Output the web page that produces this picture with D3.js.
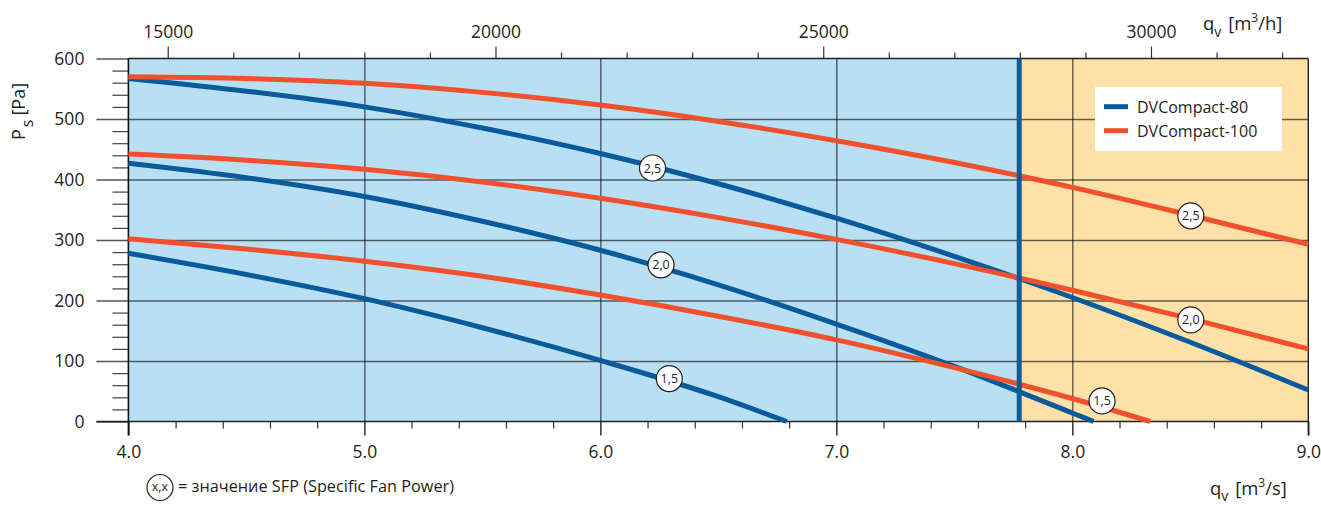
<!DOCTYPE html>
<html>
<head>
<meta charset="utf-8">
<script src="https://cdn.jsdelivr.net/npm/d3@7"></script>
<style>
  html, body { margin: 0; padding: 0; background: #fff; }
  svg { display: block; }
  text { font-family: "Open Sans", "Noto Sans", sans-serif; fill: #231f20; }
</style>
</head>
<body>
<svg id="chart" width="1321" height="506"></svg>
<script>
// ---------- DATA ----------
// air flow q_v [m3/s] and static pressure P_s [Pa]
const q80_25 = [4.0, 4.5, 5.0, 5.5, 6.0, 6.5, 7.0, 7.5, 8.0, 8.5, 9.0];
const p80_25 = [567, 546, 520, 485, 443, 393, 336, 273, 205, 131, 52];
const q80_20 = [4.0, 4.5, 5.0, 5.5, 6.0, 6.5, 7.0, 7.5, 8.0, 8.09];
const p80_20 = [427, 403, 372, 331, 283, 226, 161, 91, 14, 0];
const q80_15 = [4.0, 4.5, 5.0, 5.5, 6.0, 6.5, 6.79];
const p80_15 = [278, 243, 203, 155, 101, 41, 0];

const q100_25 = [4.0, 4.5, 5.0, 5.5, 6.0, 6.5, 7.0, 7.5, 8.0, 8.5, 9.0];
const p100_25 = [570, 567, 559, 544, 523, 496, 464, 428, 387, 341, 293];
const q100_20 = [4.0, 4.5, 5.0, 5.5, 6.0, 6.5, 7.0, 7.5, 8.0, 8.5, 9.0];
const p100_20 = [442, 432, 417, 396, 369, 337, 301, 261, 217, 170, 120];
const q100_15 = [4.0, 4.5, 5.0, 5.5, 6.0, 6.5, 7.0, 7.5, 8.0, 8.33];
const p100_15 = [302, 285, 265, 240, 209, 174, 135, 89, 38, 0];

// SFP labels
const sfpText = ["2,5", "2,0", "1,5"];
const lab80_q = [6.221, 6.257, 6.292];
const lab80_p = [419, 259, 71];
const lab100_q = [8.502, 8.502, 8.126];
const lab100_p = [340, 168, 34];

// range limit of DVCompact-80
const limitQ = 7.775;

// axes
const xMajor = [4, 5, 6, 7, 8, 9];
const yMajor = [0, 100, 200, 300, 400, 500, 600];
const topMajor = [15000, 20000, 25000, 30000];
const seriesNames = ["DVCompact-80", "DVCompact-100"];
const colors = ["#0a5a9c", "#f0502c"];

// ---------- CHART ----------
const svg = d3.select("#chart");
const L = 128.4, R = 1308.3, T = 58.5, B = 421.5;
const x = d3.scaleLinear().domain([4, 9]).range([L, R]);
const y = d3.scaleLinear().domain([0, 600]).range([B, T]);
const xTop = d3.scaleLinear().domain([4 * 3600, 9 * 3600]).range([L, R]);

// backgrounds
svg.append("rect").attr("x", x(4)).attr("y", y(600))
  .attr("width", x(limitQ) - x(4)).attr("height", y(0) - y(600)).attr("fill", "#b9e0f2");
svg.append("rect").attr("x", x(limitQ)).attr("y", y(600))
  .attr("width", x(9) - x(limitQ)).attr("height", y(0) - y(600)).attr("fill", "#fde1a8");

// minor y ticks
const yMinor = d3.range(0, 601, 20).filter(v => v % 100 !== 0);
svg.append("g").attr("transform", `translate(${L},0)`)
  .call(d3.axisLeft(y).tickValues(yMinor).tickSize(16).tickFormat(""))
  .call(g => g.select(".domain").remove())
  .call(g => g.selectAll("line").attr("stroke", "#444").attr("stroke-width", 1.2));

// major y ticks + labels
svg.append("g").attr("transform", `translate(${L},0)`)
  .call(d3.axisLeft(y).tickValues(yMajor).tickSize(32).tickPadding(12))
  .call(g => g.select(".domain").remove())
  .call(g => g.selectAll("line").attr("stroke", "#555").attr("stroke-width", 1.3))
  .call(g => g.selectAll("text").attr("font-size", 17.5).attr("fill", "#231f20")
      .style("font-family", "'Open Sans', sans-serif"));

// horizontal grid
svg.append("g").attr("transform", `translate(${L},0)`)
  .call(d3.axisLeft(y).tickValues([100, 200, 300, 400, 500]).tickSize(-(R - L)).tickFormat(""))
  .call(g => g.select(".domain").remove())
  .call(g => g.selectAll("line").attr("stroke", "#000").attr("stroke-opacity", 0.6).attr("stroke-width", 1.3));

// vertical grid
svg.append("g").attr("transform", `translate(0,${B})`)
  .call(d3.axisBottom(x).tickValues([5, 6, 7, 8]).tickSize(-(B - T)).tickFormat(""))
  .call(g => g.select(".domain").remove())
  .call(g => g.selectAll("line").attr("stroke", "#000").attr("stroke-opacity", 0.7).attr("stroke-width", 1.2));

// x minor ticks
const xMinor = d3.range(4, 9.001, 0.2).filter(v => Math.abs(v - Math.round(v)) > 0.01);
svg.append("g").attr("transform", `translate(0,${B})`)
  .call(d3.axisBottom(x).tickValues(xMinor).tickSize(7).tickFormat(""))
  .call(g => g.select(".domain").remove())
  .call(g => g.selectAll("line").attr("stroke", "#333").attr("stroke-width", 1.2));

// x major ticks + labels
svg.append("g").attr("transform", `translate(0,${B})`)
  .call(d3.axisBottom(x).tickValues(xMajor).tickSize(14).tickPadding(10).tickFormat(d3.format(".1f")))
  .call(g => g.select(".domain").remove())
  .call(g => g.selectAll("line").attr("stroke", "#222").attr("stroke-width", 1.4))
  .call(g => g.selectAll("text").attr("font-size", 17.5).attr("fill", "#231f20")
      .style("font-family", "'Open Sans', sans-serif"));

// top axis
const topMinor = d3.range(15000, 32001, 1000).filter(v => v % 5000 !== 0);
svg.append("g").attr("transform", `translate(0,${T})`)
  .call(d3.axisTop(xTop).tickValues(topMinor).tickSize(6).tickFormat(""))
  .call(g => g.select(".domain").remove())
  .call(g => g.selectAll("line").attr("stroke", "#333").attr("stroke-width", 1.2));
svg.append("g").attr("transform", `translate(0,${T})`)
  .call(d3.axisTop(xTop).tickValues(topMajor).tickSize(12).tickPadding(9).tickFormat(d3.format("d")))
  .call(g => g.select(".domain").remove())
  .call(g => g.selectAll("line").attr("stroke", "#333").attr("stroke-width", 1.2))
  .call(g => g.selectAll("text").attr("font-size", 17.5).attr("fill", "#231f20")
      .style("font-family", "'Open Sans', sans-serif"));

// frame
svg.append("line").attr("x1", L - 32).attr("x2", R).attr("y1", y(0)).attr("y2", y(0))
  .attr("stroke", "#222").attr("stroke-width", 1.4);
svg.append("line").attr("x1", L).attr("x2", R).attr("y1", y(600)).attr("y2", y(600))
  .attr("stroke", "#222").attr("stroke-width", 1.4);
svg.append("line").attr("x1", R).attr("x2", R).attr("y1", y(600)).attr("y2", y(0) + 14)
  .attr("stroke", "#222").attr("stroke-width", 1.4);
svg.append("line").attr("x1", L).attr("x2", L).attr("y1", y(600)).attr("y2", y(0) + 14)
  .attr("stroke", "#111").attr("stroke-width", 1.6);

// curves
const line = d3.line().x(d => x(d[0])).y(d => y(d[1])).curve(d3.curveMonotoneX);
const curves = [
  { q: q80_25, p: p80_25, c: colors[0] },
  { q: q80_20, p: p80_20, c: colors[0] },
  { q: q80_15, p: p80_15, c: colors[0] },
  { q: q100_25, p: p100_25, c: colors[1] },
  { q: q100_20, p: p100_20, c: colors[1] },
  { q: q100_15, p: p100_15, c: colors[1] }
];
curves.forEach(cv => {
  svg.append("path").datum(d3.zip(cv.q, cv.p)).attr("d", line)
    .attr("fill", "none").attr("stroke", cv.c).attr("stroke-width", 5);
});

// limit line
svg.append("line").attr("x1", x(limitQ)).attr("x2", x(limitQ)).attr("y1", y(600)).attr("y2", y(0))
  .attr("stroke", colors[0]).attr("stroke-width", 5);

// SFP markers
function marker(cx, cy, t) {
  svg.append("circle").attr("cx", cx).attr("cy", cy).attr("r", 13)
    .attr("fill", "#fff").attr("stroke", "#231f20").attr("stroke-width", 1.2);
  svg.append("text").attr("x", cx).attr("y", cy).attr("dy", "0.36em")
    .attr("text-anchor", "middle").attr("font-size", 12.5).text(t);
}
sfpText.forEach((t, i) => marker(x(lab80_q[i]), y(lab80_p[i]), t));
sfpText.forEach((t, i) => marker(x(lab100_q[i]), y(lab100_p[i]), t));

// legend
svg.append("rect").attr("x", 1095).attr("y", 87).attr("width", 187).attr("height", 64).attr("fill", "#fff");
seriesNames.forEach((n, i) => {
  const ly = 106.7 + i * 24;
  svg.append("line").attr("x1", 1104).attr("x2", 1128).attr("y1", ly).attr("y2", ly)
    .attr("stroke", colors[i]).attr("stroke-width", 5);
  svg.append("text").attr("x", 1137).attr("y", ly + 6).attr("font-size", 16).text(n);
});

// axis titles
const yt = svg.append("text").attr("transform", "translate(25,140) rotate(-90)").attr("font-size", 18);
yt.append("tspan").text("P");
yt.append("tspan").attr("dy", 8).attr("dx", 2).attr("font-size", 16).text("s");
yt.append("tspan").attr("dy", -8).attr("dx", 4).text("[Pa]");

const tt = svg.append("text").attr("x", 1203).attr("y", 30).attr("font-size", 18.5);
tt.append("tspan").text("q");
tt.append("tspan").attr("dy", 7).attr("font-size", 14).text("v");
tt.append("tspan").attr("dy", -7).attr("dx", 2).text(" [m");
tt.append("tspan").attr("dy", -8).attr("font-size", 12).text("3");
tt.append("tspan").attr("dy", 8).text("/h]");

const bt = svg.append("text").attr("x", 1210).attr("y", 495).attr("font-size", 18.5);
bt.append("tspan").text("q");
bt.append("tspan").attr("dy", 6).attr("font-size", 14).text("v");
bt.append("tspan").attr("dy", -6).attr("dx", 2).text(" [m");
bt.append("tspan").attr("dy", -8).attr("font-size", 12).text("3");
bt.append("tspan").attr("dy", 8).text("/s]");

// footnote
svg.append("circle").attr("cx", 160).attr("cy", 487.5).attr("r", 13)
  .attr("fill", "#fff").attr("stroke", "#231f20").attr("stroke-width", 1.2);
svg.append("text").attr("x", 160).attr("y", 487.5).attr("dy", "0.3em")
  .attr("text-anchor", "middle").attr("font-size", 12.5).text("x,x");
svg.append("text").attr("x", 178).attr("y", 492).attr("font-size", 16.3)
  .text("= значение SFP (Specific Fan Power)");
</script>
</body>
</html>
